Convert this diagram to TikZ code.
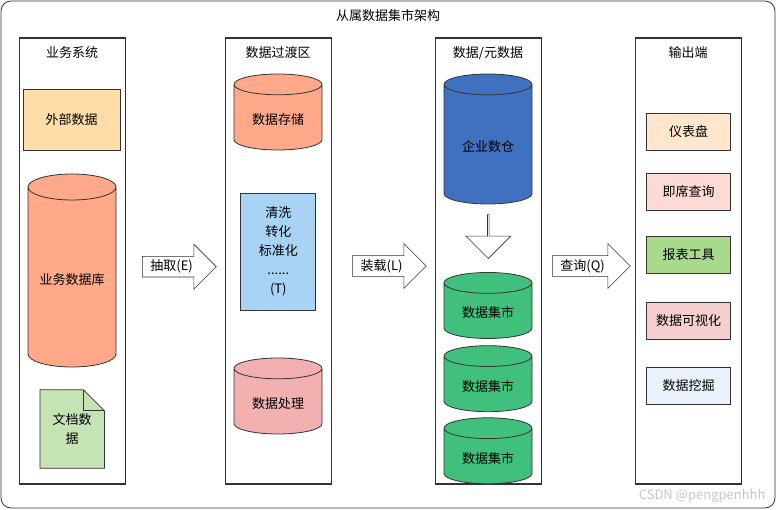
\documentclass[tikz,border=0pt]{standalone}
\usepackage{fontspec}
\setmainfont{Noto Sans CJK SC}
\usetikzlibrary{shapes.geometric,shapes.arrows,positioning,backgrounds}

\definecolor{lineclr}{HTML}{333333}
\definecolor{extfill}{HTML}{FFDCA8}
\definecolor{dbfill}{HTML}{FFA98A}
\definecolor{docfill}{HTML}{C6E3B6}
\definecolor{tfill}{HTML}{A9D3F5}
\definecolor{procfill}{HTML}{F2B0B0}
\definecolor{dwfill}{HTML}{4070C0}
\definecolor{martfill}{HTML}{40C07C}
\definecolor{dashfill}{HTML}{FFE6CC}
\definecolor{adhocfill}{HTML}{FDDAD3}
\definecolor{rptfill}{HTML}{A9D98D}
\definecolor{visfill}{HTML}{F5CFD0}
\definecolor{minefill}{HTML}{E8F1FC}

\begin{document}
\begin{tikzpicture}[x=1pt,y=-1pt,font=\fontsize{13}{19}\selectfont,
  lane/.style={draw=lineclr,line width=1.5pt,minimum width=106pt,minimum height=446pt,inner sep=0pt},
  box/.style={draw=lineclr,line width=0.8pt,minimum width=84pt,minimum height=37pt,inner sep=0pt},
  db/.style={cylinder,shape border rotate=90,draw=lineclr,line width=0.8pt,aspect=0.4,minimum width=88pt,
    inner sep=0pt,text height=14pt,text depth=0pt,anchor=shape center},
  flow/.style={single arrow,draw=lineclr,fill=white,line width=0.6pt,single arrow head extend=8.3pt,
    minimum width=45pt,inner sep=0pt,anchor=tail}]
  \useasboundingbox (0,0) rectangle (777,510);
  \node[draw=lineclr,line width=0.8pt,rounded corners=10pt,minimum width=774pt,minimum height=507pt] (frame) at (388,254.5) {};
  \node (title) at (388,16) {从属数据集市架构};
  % four lanes
  \node[lane] (src)   at (72.3,261) {};
  \node[lane] (stage) at (278.5,261) {};
  \node[lane] (dw)    at (488.5,261) {};
  \node[lane] (out)   at (688.5,261) {};
  \node (srct)   at (72,53)  {业务系统};
  \node (staget) at (278,53) {数据过渡区};
  \node (dwt)    at (488,53) {数据/元数据};
  \node (outt)   at (688,53) {输出端};
  % business systems
  \node[box,fill=extfill,minimum width=97pt,minimum height=61pt] (ext) at (71.7,119.8) {外部数据};
  \node[db,fill=dbfill,minimum height=193pt] (bizdb) at (72,270.5) {业务数据库};
  \node[align=center,minimum width=64pt,minimum height=78pt,inner sep=0pt] (doc) at (72.2,429) {文档数\\据};
  \begin{scope}[on background layer]
    \draw[draw=lineclr,line width=0.8pt,fill=docfill] (doc.north west) -- ([xshift=-21pt]doc.north east)
      -- ([yshift=-21pt]doc.north east) -- (doc.south east) -- (doc.south west) -- cycle;
    \draw[draw=lineclr,line width=0.8pt] ([xshift=-21pt]doc.north east) -- ([xshift=-21pt,yshift=-21pt]doc.north east)
      -- ([yshift=-21pt]doc.north east);
  \end{scope}
  % staging area
  \node[db,fill=dbfill,minimum height=76pt] (store) at (278,112) {数据存储};
  \node[box,fill=tfill,align=center,minimum width=75pt,minimum height=117pt] (clean) at (278.3,251.7)
    {清洗\\转化\\标准化\\......\\(T)};
  \node[db,fill=procfill,minimum height=76pt] (proc) at (278,396) {数据处理};
  % warehouse and marts
  \node[db,fill=dwfill,minimum height=130pt] (ewh) at (488,139) {企业数仓};
  \node[flow,shape border rotate=270,minimum height=44pt] (down) at (488.3,214.3) {};
  \node[db,fill=martfill,minimum height=66pt] (mart1) at (488,305.5) {数据集市};
  \node[db,fill=martfill,minimum height=66pt] (mart2) at (488,378.7) {数据集市};
  \node[db,fill=martfill,minimum height=66pt] (mart3) at (488,450.8) {数据集市};
  % outputs
  \node[box,fill=dashfill]  (dash) at (688.7,131.8) {仪表盘};
  \node[box,fill=adhocfill] (adhoc) at (688.7,191.8) {即席查询};
  \node[box,fill=rptfill]   (rpt) at (688.7,254.8) {报表工具};
  \node[box,fill=visfill]   (vis) at (688.7,320.8) {数据可视化};
  \node[box,fill=minefill]  (mine) at (688.7,385.8) {数据挖掘};
  % ETL arrows
  \node[flow,minimum height=74pt] (extract) at (142,266.7) {\hspace*{-5pt}抽取(E)};
  \node[flow,minimum height=74pt] (load) at (352,266) {\hspace*{-5pt}装载(L)};
  \node[flow,minimum height=78pt] (query) at (552,266) {\hspace*{-7pt}查询(Q)};
  \node[text=gray!45,anchor=east] (mark) at (769,496) {CSDN @pengpenhhh};
\end{tikzpicture}
\end{document}
